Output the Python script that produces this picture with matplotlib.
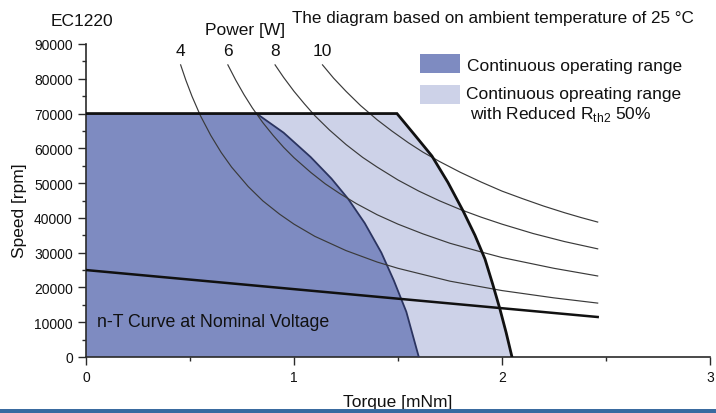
import matplotlib
matplotlib.use("Agg")
import matplotlib.pyplot as plt
from matplotlib.patches import Polygon, Rectangle
from matplotlib.ticker import MultipleLocator

plt.rcParams["font.family"] = ["Liberation Sans", "DejaVu Sans"]
plt.rcParams["mathtext.fontset"] = "custom"
plt.rcParams["mathtext.rm"] = "Liberation Sans"

# continuous operating range (dark area), torque [mNm] / speed [rpm]
cont_torque = [0.0, 0.0, 0.82, 0.95, 1.08, 1.18, 1.26, 1.34, 1.42, 1.48, 1.54, 1.60]
cont_speed = [0, 70000, 70000, 64500, 57500, 51300, 45500, 38500, 30000, 22000, 13000, 0]

# continuous range with reduced Rth2 50% (light area)
red_torque = [0.0, 0.0, 1.495, 1.585, 1.663, 1.74, 1.813, 1.87, 1.918, 1.955, 1.99, 2.02, 2.048]
red_speed = [0, 70000, 70000, 63500, 57800, 50200, 42000, 35000, 28200, 21000, 13800, 7000, 0]

# n-T curve at nominal voltage
nt_torque = [0.0, 2.46]
nt_speed = [25000, 11500]

# constant power lines
power_labels = ["4", "6", "8", "10"]
p4_torque = [0.455, 0.48, 0.51, 0.55, 0.6, 0.65, 0.7, 0.78, 0.85, 0.93, 1.0,
             1.1, 1.25, 1.4, 1.5, 1.75, 2.0, 2.25, 2.46]
p4_speed = [84000, 79600, 74900, 69400, 63700, 58800, 54600, 49000, 44900, 41100,
            38200, 34700, 30600, 27300, 25500, 21800, 19100, 17000, 15500]
p6_torque = [0.682, 0.72, 0.76, 0.8, 0.85, 0.9, 0.95, 1.0, 1.08, 1.15, 1.22,
             1.3, 1.4, 1.5, 1.62, 1.75, 1.9, 2.0, 2.25, 2.46]
p6_speed = [84000, 79600, 75400, 71600, 67400, 63700, 60300, 57300, 53100, 49800,
            47000, 44100, 40900, 38200, 35400, 32700, 30200, 28600, 25500, 23300]
p8_torque = [0.909, 0.95, 1.0, 1.05, 1.1, 1.17, 1.25, 1.33, 1.4, 1.5, 1.6, 1.7,
             1.8, 1.9, 2.0, 2.15, 2.3, 2.46]
p8_speed = [84000, 80400, 76400, 72800, 69400, 65300, 61100, 57400, 54600, 50900,
            47700, 44900, 42400, 40200, 38200, 35500, 33200, 31100]
p10_torque = [1.137, 1.19, 1.25, 1.32, 1.4, 1.47, 1.55, 1.62, 1.7, 1.8, 1.9,
              2.0, 2.1, 2.2, 2.3, 2.38, 2.46]
p10_speed = [84000, 80200, 76400, 72300, 68200, 65000, 61600, 58900, 56200, 53100,
             50300, 47700, 45500, 43400, 41500, 40100, 38800]

DARK = "#7e8bc1"
LIGHT = "#cdd2e8"
INK = "#2a2a2a"


def main() -> None:
    fig = plt.figure(figsize=(7.16, 4.14), dpi=100)
    ax = fig.add_axes([86 / 716, 56 / 414, 624 / 716, 313 / 414])

    ax.add_patch(Polygon(list(zip(red_torque, red_speed)), closed=True,
                         facecolor=LIGHT, edgecolor="none", zorder=1))
    ax.add_patch(Polygon(list(zip(cont_torque, cont_speed)), closed=True,
                         facecolor=DARK, edgecolor="none", zorder=2))
    ax.plot(cont_torque[2:], cont_speed[2:], color="#2b3460", lw=1.3, zorder=3)

    curves = [(p4_torque, p4_speed), (p6_torque, p6_speed),
              (p8_torque, p8_speed), (p10_torque, p10_speed)]
    for label, (tq, sp) in zip(power_labels, curves):
        ax.plot(tq, sp, color="#3a3a3a", lw=0.85, zorder=4)
        ax.text(tq[0], 88000, label, ha="center", va="center", fontsize=12.5,
                color="#111111", clip_on=False)

    ax.plot(red_torque[1:], red_speed[1:], color="#111111", lw=2.0, zorder=5,
            solid_joinstyle="miter")
    ax.plot(nt_torque, nt_speed, color="#111111", lw=1.8, zorder=5)

    ax.set_xlim(0, 3)
    ax.set_ylim(0, 90000)
    ax.xaxis.set_major_locator(MultipleLocator(1))
    ax.xaxis.set_minor_locator(MultipleLocator(0.5))
    ax.yaxis.set_major_locator(MultipleLocator(10000))
    ax.yaxis.set_minor_locator(MultipleLocator(5000))
    ax.tick_params(which="major", direction="out", length=5.5, width=1.0,
                   color=INK, labelsize=10, pad=4, labelcolor="#111111")
    ax.tick_params(which="minor", direction="out", length=3, width=1.0, color=INK)
    for side in ("top", "right"):
        ax.spines[side].set_visible(False)
    for side in ("left", "bottom"):
        ax.spines[side].set_color(INK)
        ax.spines[side].set_linewidth(1.2)

    ax.set_xlabel("Torque [mNm]", fontsize=12.5, color="#111111")
    ax.xaxis.set_label_coords(0.5, -0.118)
    ax.set_ylabel("Speed [rpm]", fontsize=12.5, color="#111111")
    ax.yaxis.set_label_coords(-0.095, 0.47)

    ax.text(0.053, 10300, "n-T Curve at Nominal Voltage",
            fontsize=12.8, va="center", ha="left", color="#111111", zorder=6)

    # header texts
    fig.text(82 / 716, 1 - 21 / 414, "EC1220", fontsize=12.5, ha="center",
             va="center", color="#111111")
    fig.text(205 / 716, 1 - 31 / 414, "Power [W]", fontsize=12.5, ha="left",
             va="center", color="#111111")
    fig.text(292 / 716, 1 - 19 / 414,
             "The diagram based on ambient temperature of 25 °C",
             fontsize=12.3, ha="left", va="center", color="#111111")

    # legend drawn by hand
    fig.add_artist(Rectangle((420 / 716, 1 - 74 / 414), 40 / 716, 19 / 414,
                             transform=fig.transFigure, facecolor=DARK,
                             edgecolor="none"))
    fig.add_artist(Rectangle((420 / 716, 1 - 105 / 414), 40 / 716, 19 / 414,
                             transform=fig.transFigure, facecolor=LIGHT,
                             edgecolor="none"))
    fig.text(467 / 716, 1 - 66 / 414, "Continuous operating range",
             fontsize=12.5, ha="left", va="center", color="#111111")
    fig.text(466 / 716, 1 - 95 / 414, "Continuous opreating range",
             fontsize=12.5, ha="left", va="center", color="#111111")
    fig.text(470 / 716, 1 - 114 / 414, r"with Reduced R$_{\rm th2}$ 50%",
             fontsize=12.5, ha="left", va="center", color="#111111")

    # blue strip at the bottom edge
    fig.add_artist(Rectangle((0, 0), 1, 4 / 414, transform=fig.transFigure,
                             facecolor="#3a6ba0", edgecolor="none"))

    fig.savefig("out.png", dpi=100)
    plt.close(fig)


if __name__ == "__main__":
    main()
